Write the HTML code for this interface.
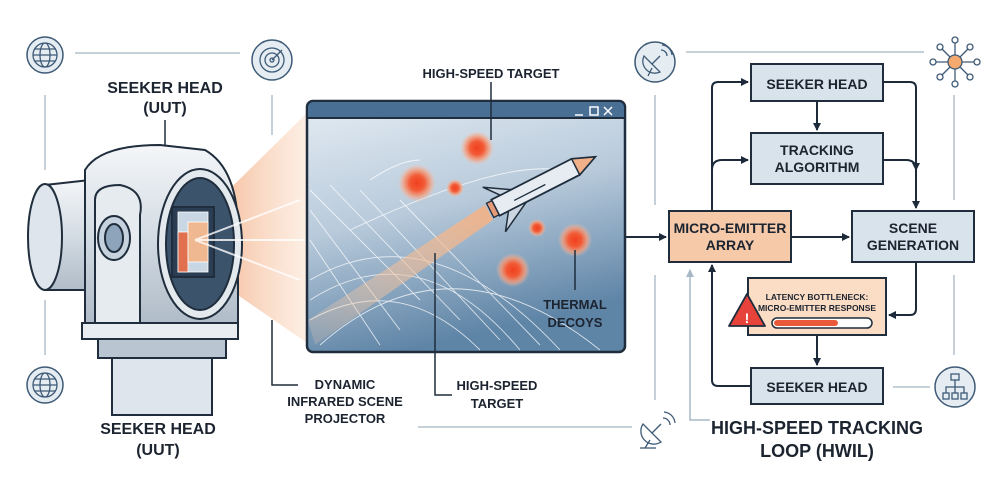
<!DOCTYPE html>
<html><head><meta charset="utf-8"><style>
html,body{margin:0;padding:0;background:#fff;}
svg{display:block;}
text{font-family:"Liberation Sans",sans-serif;font-weight:bold;fill:#1c2430;}
</style></head><body>
<svg width="1000" height="485" viewBox="0 0 1000 485" xmlns="http://www.w3.org/2000/svg">
<defs>
<marker id="ah" markerWidth="8" markerHeight="8" refX="7" refY="4" orient="auto" markerUnits="userSpaceOnUse"><path d="M0,0 L8,4 L0,8 z" fill="#1c2a3a"/></marker>
<marker id="ahg" markerWidth="8" markerHeight="8" refX="7" refY="4" orient="auto" markerUnits="userSpaceOnUse"><path d="M0,0 L8,4 L0,8 z" fill="#a8b8c6"/></marker>
<linearGradient id="scr" x1="0" y1="0" x2="0.3" y2="1"><stop offset="0" stop-color="#e4ecf3"/><stop offset="0.5" stop-color="#b8cadb"/><stop offset="1" stop-color="#5e84a6"/></linearGradient>
<linearGradient id="beam" x1="0" y1="0" x2="1" y2="0"><stop offset="0" stop-color="#f0a070" stop-opacity="0.9"/><stop offset="1" stop-color="#fbe0cc" stop-opacity="0.5"/></linearGradient>
<linearGradient id="plume" x1="1" y1="0" x2="0" y2="1"><stop offset="0" stop-color="#f6b080"/><stop offset="1" stop-color="#f6d0b0" stop-opacity="0.2"/></linearGradient>
<linearGradient id="metal" x1="0" y1="0" x2="0" y2="1"><stop offset="0" stop-color="#f4f6f8"/><stop offset="0.5" stop-color="#d4dce4"/><stop offset="1" stop-color="#b0bcc8"/></linearGradient>
<radialGradient id="dec"><stop offset="0" stop-color="#f04020"/><stop offset="0.4" stop-color="#f25a35"/><stop offset="0.7" stop-color="#f59a78" stop-opacity="0.8"/><stop offset="1" stop-color="#f8c0a8" stop-opacity="0"/></radialGradient>
</defs>

<!-- frame lines left -->
<g stroke="#b4c0ca" stroke-width="1.5" fill="none">
<line x1="75" y1="53" x2="240" y2="53"/>
<line x1="45" y1="95" x2="45" y2="170"/>
<line x1="45" y1="300" x2="45" y2="355"/>
<line x1="272" y1="95" x2="272" y2="135"/>
<line x1="686" y1="52" x2="924" y2="52"/>
<line x1="655" y1="95" x2="655" y2="205"/>
<line x1="655" y1="275" x2="655" y2="400"/>
<line x1="954" y1="95" x2="954" y2="200"/>
<line x1="954" y1="275" x2="954" y2="355"/>
<line x1="893" y1="387" x2="930" y2="387"/>
<line x1="418" y1="427" x2="632" y2="427"/>
<polyline points="710,420 690,420 690,270" stroke="#a8b8c6" marker-end="url(#ahg)"/>
</g>
<!-- icons -->
<g stroke="#3e5a76" stroke-width="1.5" fill="#e6edf2">
<circle cx="45" cy="55" r="18"/><circle cx="272" cy="60" r="20"/><circle cx="45" cy="385" r="18"/>
<circle cx="655" cy="62" r="20"/><circle cx="955" cy="387" r="20"/>
</g>
<g stroke="#3e5a76" stroke-width="1.3" fill="none">
<ellipse cx="45" cy="55" rx="12" ry="12"/><ellipse cx="45" cy="55" rx="5" ry="12"/><line x1="33" y1="55" x2="57" y2="55"/><line x1="35" y1="49" x2="55" y2="49"/><line x1="35" y1="61" x2="55" y2="61"/>
<ellipse cx="45" cy="385" rx="12" ry="12"/><ellipse cx="45" cy="385" rx="5" ry="12"/><line x1="33" y1="385" x2="57" y2="385"/><line x1="35" y1="379" x2="55" y2="379"/><line x1="35" y1="391" x2="55" y2="391"/>
<circle cx="272" cy="60" r="12"/><circle cx="272" cy="60" r="7"/><circle cx="272" cy="60" r="2"/><line x1="272" y1="60" x2="282" y2="50"/>
<path d="M644,56 a12,12 0 0 0 16,16 z"/><line x1="652" y1="64" x2="660" y2="56"/><line x1="652" y1="68" x2="648" y2="76"/><path d="M661,50 a6,6 0 0 1 6,6 M662,45 a11,11 0 0 1 10,10"/>
<path d="M643,424 a13,13 0 0 0 18,18 z"/><line x1="652" y1="433" x2="661" y2="424"/><line x1="650" y1="440" x2="645" y2="448"/><line x1="640" y1="448" x2="656" y2="448"/><path d="M663,418 a7,7 0 0 1 7,7 M664,412 a12,12 0 0 1 11,11"/>
<rect x="951" y="374" width="8" height="6"/><rect x="943" y="393" width="6" height="6"/><rect x="952" y="393" width="6" height="6"/><rect x="961" y="393" width="6" height="6"/><path d="M955,380 v6 M946,393 v-6 h18 v6 M955,386 v7"/>
<g><line x1="955" y1="62" x2="955" y2="40"/><line x1="955" y1="62" x2="955" y2="84"/><line x1="955" y1="62" x2="933" y2="62"/><line x1="955" y1="62" x2="977" y2="62"/><line x1="955" y1="62" x2="940" y2="47"/><line x1="955" y1="62" x2="970" y2="47"/><line x1="955" y1="62" x2="940" y2="77"/><line x1="955" y1="62" x2="970" y2="77"/>
<circle cx="955" cy="40" r="3" fill="#fff"/><circle cx="955" cy="84" r="3" fill="#fff"/><circle cx="933" cy="62" r="3" fill="#fff"/><circle cx="977" cy="62" r="3" fill="#fff"/><circle cx="940" cy="47" r="3" fill="#fff"/><circle cx="970" cy="47" r="3" fill="#fff"/><circle cx="940" cy="77" r="3" fill="#fff"/><circle cx="970" cy="77" r="3" fill="#fff"/>
<circle cx="955" cy="62" r="7" fill="#f5a96e"/></g>
</g>

<!-- beam -->
<polygon points="190,228 310,110 310,345 190,262" fill="url(#beam)"/>

<!-- camera -->
<g stroke="#1f2d3c" stroke-width="2">
<rect x="112" y="355" width="100" height="60" fill="#dfe5ec"/>
<rect x="98" y="338" width="128" height="20" fill="#b9c6d2"/>
<rect x="82" y="323" width="156" height="16" fill="#e8edf2"/>
<path d="M45,185 L90,180 L90,290 L45,290 Z" fill="url(#metal)"/>
<ellipse cx="45" cy="237" rx="17" ry="53" fill="#dfe5ec"/>
<path d="M85,170 Q100,145 160,145 L205,150 Q240,170 238,240 L238,323 L85,323 Z" fill="url(#metal)"/>
<path d="M95,200 Q95,185 120,185 Q145,190 140,215 L140,323 L95,323 Z" fill="#e6ebf0"/>
<ellipse cx="114" cy="238" rx="16" ry="22" fill="#c6d2de"/>
<ellipse cx="114" cy="238" rx="9" ry="14" fill="#8ea4ba"/>
<ellipse cx="200" cy="244" rx="42" ry="75" fill="#e4e9ee"/>
<ellipse cx="200" cy="244" rx="34" ry="66" fill="#3c536c"/>
<rect x="172" y="207" width="42" height="70" fill="#2a3d52"/>
</g>
<g stroke="#fff" stroke-width="0.8">
<rect x="178" y="212" width="30" height="60" fill="#c9d7e4"/>
<rect x="178" y="232" width="10" height="40" fill="#e07050"/>
<rect x="188" y="222" width="20" height="40" fill="#f0b890"/>
</g>
<line x1="165" y1="120" x2="165" y2="145" stroke="#1f2d3c" stroke-width="1.5"/>
<g stroke="#fff" stroke-width="2" opacity="0.8"><line x1="195" y1="240" x2="300" y2="200"/><line x1="195" y1="240" x2="305" y2="240"/><line x1="195" y1="240" x2="300" y2="280"/></g>

<!-- screen window -->
<rect x="307" y="101" width="318" height="251" rx="6" fill="url(#scr)" stroke="#1f2d3c" stroke-width="2.5"/>
<path d="M307,118 V107 a6,6 0 0 1 6,-6 H619 a6,6 0 0 1 6,6 V118 Z" fill="#4a6f94" stroke="#1f2d3c" stroke-width="2"/>
<g stroke="#fff" stroke-width="1.5" fill="none"><line x1="575" y1="115" x2="583" y2="115"/><rect x="590" y="107" width="8" height="8"/><path d="M604,107 l8,8 M612,107 l-8,8"/></g>
<g stroke="#fff" stroke-width="0.9" fill="none" opacity="0.75">
<path d="M310,300 Q420,230 520,350"/><path d="M310,320 Q400,270 480,350"/><path d="M310,280 Q430,210 560,350"/><path d="M320,345 Q450,230 600,350"/>
<path d="M310,190 L420,300"/><path d="M310,210 L400,330"/><path d="M310,240 L380,345"/><path d="M330,185 L460,320"/><path d="M360,190 L500,340"/><path d="M400,200 L540,345"/>
<path d="M370,180 Q400,160 420,160"/><path d="M350,230 Q500,160 560,170"/>
</g>
<polygon points="485,205 493,220 315,345 308,320" fill="url(#plume)" opacity="0.9"/>
<!-- rocket -->
<g transform="translate(540,185) rotate(-27)">
<path d="M-50,-9 L40,-9 L62,0 L40,9 L-50,9 Z" fill="#e6ecf2" stroke="#1f2d3c" stroke-width="1.8"/>
<path d="M40,-9 L62,0 L40,9 Z" fill="#f2b08a" stroke="#1f2d3c" stroke-width="1.5"/>
<path d="M-40,-9 L-52,-24 L-28,-9 Z M-40,9 L-52,26 L-20,9 Z" fill="#cbd6e2" stroke="#1f2d3c" stroke-width="1.5"/>
<rect x="-56" y="-8" width="6" height="16" fill="#e49a78" stroke="#1f2d3c" stroke-width="1.3"/>
<line x1="-30" y1="2" x2="5" y2="2" stroke="#1f2d3c" stroke-width="1.3"/>
</g>
<!-- decoys -->
<circle cx="477" cy="148" r="17" fill="url(#dec)"/>
<circle cx="417" cy="183" r="19" fill="url(#dec)"/>
<circle cx="455" cy="188" r="9" fill="url(#dec)"/>
<circle cx="537" cy="228" r="9" fill="url(#dec)"/>
<circle cx="575" cy="240" r="17" fill="url(#dec)"/>
<circle cx="513" cy="270" r="17" fill="url(#dec)"/>

<!-- labels lines -->
<g stroke="#1f2d3c" stroke-width="1.5" fill="none">
<line x1="491" y1="82" x2="491" y2="140"/>
<line x1="575" y1="250" x2="575" y2="290"/>
<polyline points="435,253 435,395 452,395"/>
<polyline points="272,320 272,385 298,385"/>
</g>
<text x="165" y="93" font-size="16" text-anchor="middle">SEEKER HEAD</text>
<text x="165" y="113" font-size="16" text-anchor="middle">(UUT)</text>
<text x="158" y="434" font-size="16" text-anchor="middle">SEEKER HEAD</text>
<text x="158" y="455" font-size="16" text-anchor="middle">(UUT)</text>
<text x="491" y="78" font-size="13" text-anchor="middle">HIGH-SPEED TARGET</text>
<text x="575" y="309" font-size="13" text-anchor="middle">THERMAL</text>
<text x="575" y="327" font-size="13" text-anchor="middle">DECOYS</text>
<text x="497" y="390" font-size="13" text-anchor="middle">HIGH-SPEED</text>
<text x="497" y="408" font-size="13" text-anchor="middle">TARGET</text>
<text x="345" y="389" font-size="13" text-anchor="middle">DYNAMIC</text>
<text x="345" y="406" font-size="13" text-anchor="middle">INFRARED SCENE</text>
<text x="345" y="423" font-size="13" text-anchor="middle">PROJECTOR</text>

<!-- flow boxes -->
<g stroke="#1f2d3c" stroke-width="2">
<rect x="751" y="64" width="132" height="37" fill="#d9e3eb"/>
<rect x="751" y="133" width="132" height="51" fill="#d9e3eb"/>
<rect x="669" y="211" width="122" height="51" fill="#f6c9a8"/>
<rect x="852" y="211" width="122" height="51" fill="#d9e3eb"/>
<rect x="748" y="278" width="138" height="57" fill="#fbdcc4"/>
<rect x="751" y="368" width="132" height="36" fill="#d9e3eb"/>
</g>
<path d="M747,294 L765,326 L729,326 Z" fill="#e8433a" stroke="#1f2d3c" stroke-width="1.8" stroke-linejoin="round"/>
<text x="747" y="323" font-size="14" text-anchor="middle" style="fill:#fff">!</text>
<rect x="772" y="318" width="100" height="10" rx="5" fill="#fff" stroke="#1f2d3c" stroke-width="1.5"/>
<rect x="774" y="320" width="64" height="6" rx="3" fill="#e85a3a"/>
<text x="817" y="300" font-size="8.5" text-anchor="middle">LATENCY BOTTLENECK:</text>
<text x="817" y="311" font-size="8.5" text-anchor="middle">MICRO-EMITTER RESPONSE</text>
<text x="817" y="89" font-size="14" text-anchor="middle">SEEKER HEAD</text>
<text x="817" y="155" font-size="14" text-anchor="middle">TRACKING</text>
<text x="817" y="172" font-size="14" text-anchor="middle">ALGORITHM</text>
<text x="730" y="233" font-size="14" text-anchor="middle">MICRO-EMITTER</text>
<text x="730" y="250" font-size="14" text-anchor="middle">ARRAY</text>
<text x="913" y="233" font-size="14" text-anchor="middle">SCENE</text>
<text x="913" y="250" font-size="14" text-anchor="middle">GENERATION</text>
<text x="817" y="392" font-size="14" text-anchor="middle">SEEKER HEAD</text>
<text x="817" y="434" font-size="18" text-anchor="middle">HIGH-SPEED TRACKING</text>
<text x="817" y="457" font-size="18" text-anchor="middle">LOOP (HWIL)</text>

<!-- arrows -->
<g stroke="#1c2a3a" stroke-width="2" fill="none" marker-end="url(#ah)">
<line x1="626" y1="237" x2="666" y2="237"/>
<line x1="792" y1="237" x2="849" y2="237"/>
<path d="M712,211 V88 q0,-6 6,-6 H748"/>
<path d="M712,170 q0,-10 10,-10 H748"/>
<path d="M883,82 H910 q6,0 6,6 V208"/>
<path d="M883,160 H906 q10,0 10,10"/>
<line x1="817" y1="101" x2="817" y2="130"/>
<path d="M916,262 V309 q0,6 -6,6 H889"/>
<line x1="817" y1="335" x2="817" y2="365"/>
<path d="M751,386 H718 q-6,0 -6,-6 V265"/>
</g>
</svg>
</body></html>
